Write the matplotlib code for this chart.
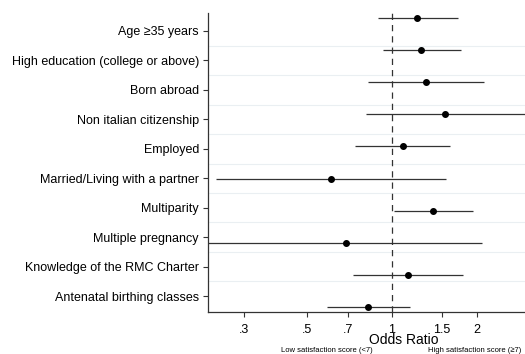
import numpy as np
import matplotlib
matplotlib.use("Agg")
import matplotlib.pyplot as plt

categories = ["Age \u226535 years", "High education (college or above)", "Born abroad",
              "Non italian citizenship", "Employed", "Married/Living with a partner",
              "Multiparity", "Multiple pregnancy", "Knowledge of the RMC Charter",
              "Antenatal birthing classes"]
odds_ratio = [1.23, 1.27, 1.32, 1.54, 1.09, 0.61, 1.40, 0.69, 1.14, 0.82]
ci_low = [0.89, 0.93, 0.82, 0.81, 0.74, 0.238, 1.02, 0.20, 0.73, 0.59]
ci_high = [1.71, 1.75, 2.12, 3.3, 1.60, 1.55, 1.93, 2.08, 1.79, 1.16]
xticks = [0.3, 0.5, 0.7, 1, 1.5, 2]
xticklabels = [".3", ".5", ".7", "1", "1.5", "2"]

plt.rcParams['font.family'] = ['Liberation Sans', 'DejaVu Sans']

W, H = 525, 354
fig = plt.figure(figsize=(W / 100, H / 100), dpi=100)
ax = fig.add_axes([208 / W, 1 - 312 / H, 1 - 208 / W, (312 - 13) / H])

n = len(categories)
label_pos = np.arange(n)
point_pos = -0.44 + 1.09 * np.arange(n)

for yg in np.arange(n - 1) + 0.5:
    ax.axhline(yg, color="#eaeff2", lw=0.8, zorder=0)

ax.axvline(1, color="#333333", lw=0.9, ls=(0, (5, 4)), zorder=1)
ax.hlines(point_pos, ci_low, ci_high, color="#333333", lw=0.9, zorder=2)
ax.plot(odds_ratio, point_pos, "o", color="black", ms=4, zorder=3)

ax.set_xscale("log")
ax.set_xlim(0.223, 2.96)
ax.set_ylim(9.54, -0.611)
ax.set_xticks(xticks)
ax.set_xticklabels(xticklabels, fontsize=9)
ax.xaxis.set_minor_locator(matplotlib.ticker.NullLocator())
ax.set_yticks(label_pos)
ax.set_yticklabels(categories, fontsize=9)
ax.tick_params(axis="both", length=3.5, width=0.8, color="#333333", pad=3)
ax.tick_params(axis="x", pad=5)

for s in ["top", "right"]:
    ax.spines[s].set_visible(False)
for s in ["left", "bottom"]:
    ax.spines[s].set_color("#333333")
    ax.spines[s].set_linewidth(0.9)

fig.text(404 / W, 1 - 339.5 / H, "Odds Ratio", ha="center", va="center", fontsize=10)
fig.text(327 / W, 1 - 350 / H, "Low satisfaction score (<7)", ha="center", va="center", fontsize=5.5)
fig.text(475 / W, 1 - 350 / H, "High satisfaction score (\u22657)", ha="center", va="center", fontsize=5.5)

fig.savefig("out.png", dpi=100)
